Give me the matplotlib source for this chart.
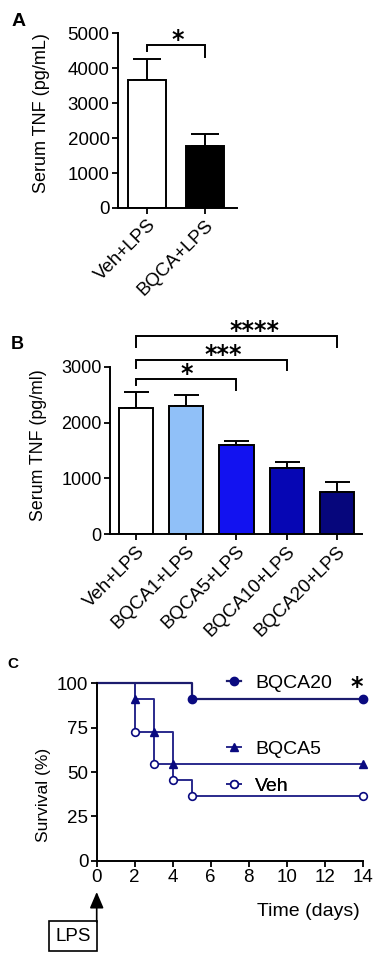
import matplotlib.pyplot as plt
import numpy as np

plt.rcParams['font.family'] = ['Liberation Sans', 'DejaVu Sans']
plt.rcParams['axes.linewidth'] = 1.4

# panel A
a_groups = ['Veh+LPS', 'BQCA+LPS']
a_means = [3670, 1780]
a_sem = [600, 335]
a_colors = ['white', 'black']

# panel B
b_groups = ['Veh+LPS', 'BQCA1+LPS', 'BQCA5+LPS', 'BQCA10+LPS', 'BQCA20+LPS']
b_means = [2270, 2300, 1590, 1185, 755]
b_sem = [280, 190, 72, 102, 185]
b_colors = ['white', '#90c0f8', '#1212f0', '#0606b4', '#06067c']

# panel C (Kaplan-Meier, n=11 per group)
days_bqca20 = [0, 5, 14]
surv_bqca20 = [100, 90.9, 90.9]
days_bqca5 = [0, 2, 3, 4, 14]
surv_bqca5 = [100, 90.9, 72.7, 54.5, 54.5]
days_veh = [0, 2, 3, 4, 5, 14]
surv_veh = [100, 72.7, 54.5, 45.5, 36.4, 36.4]

fig = plt.figure(figsize=(3.83, 9.55), dpi=100)

STAR_FONT = ['DejaVu Sans']


def style_axes(ax, size):
    ax.spines['top'].set_visible(False)
    ax.spines['right'].set_visible(False)
    ax.tick_params(direction='out', length=4, width=1.3, labelsize=size, pad=2)


def bracket(ax, x0, x1, y, y0, y1, stars, sx, size=17):
    ax.plot([x0, x0, x1, x1], [y0, y, y, y1], color='black', lw=1.4,
            clip_on=False, solid_joinstyle='miter')
    ax.annotate(stars, xy=(sx, y), xytext=(0, -1.5), textcoords='offset points',
                ha='center', va='baseline', fontsize=size, fontweight='bold',
                family=STAR_FONT, annotation_clip=False)


# ---------------- A ----------------
axA = fig.add_axes([0.308, 0.7822, 0.311, 0.1832])
xa = np.arange(len(a_groups))
axA.errorbar(xa, a_means, yerr=[np.zeros(len(xa)), a_sem], fmt='none',
             ecolor='black', elinewidth=1.4, capsize=10, capthick=1.4, zorder=1)
axA.bar(xa, a_means, width=0.655, color=a_colors, edgecolor='black',
        linewidth=1.4, zorder=2)
axA.set_xlim(-0.5, 1.552)
axA.set_ylim(0, 5000)
axA.set_yticks([0, 1000, 2000, 3000, 4000, 5000])
axA.set_xticks(xa)
axA.set_xticklabels(a_groups, rotation=45, ha='right', rotation_mode='anchor')
style_axes(axA, 13.5)
axA.set_ylabel('Serum TNF (pg/mL)', fontsize=13)
axA.yaxis.set_label_coords(-0.57, 0.54)
bracket(axA, 0, 1, 4657, 4494, 4323, '*', 0.53)
fig.text(0.031, 0.978, 'A', fontsize=14, fontweight='bold', va='center')

# ---------------- B ----------------
axB = fig.add_axes([0.2872, 0.4405, 0.658, 0.1755])
xb = np.arange(len(b_groups))
axB.errorbar(xb, b_means, yerr=[np.zeros(len(xb)), b_sem], fmt='none',
             ecolor='black', elinewidth=1.4, capsize=9, capthick=1.4, zorder=1)
axB.bar(xb, b_means, width=0.68, color=b_colors, edgecolor='black',
        linewidth=1.4, zorder=2)
axB.set_xlim(-0.518, 4.5)
axB.set_ylim(0, 3000)
axB.set_yticks([0, 1000, 2000, 3000])
axB.set_xticks(xb)
axB.set_xticklabels(b_groups, rotation=45, ha='right', rotation_mode='anchor')
style_axes(axB, 13)
axB.tick_params(axis='x', labelsize=13.5)
axB.set_ylabel('Serum TNF (pg/ml)', fontsize=12.8)
axB.yaxis.set_label_coords(-0.25, 0.533)
bracket(axB, 0, 2, 2774, 2672, 2583, '*', 1.0)
bracket(axB, 0, 3, 3123, 2971, 2941, '***', 1.73)
bracket(axB, 0, 4, 3545, 3358, 3358, '****', 2.35)
fig.text(0.028, 0.639, 'B', fontsize=13, fontweight='bold', va='center')

# ---------------- C ----------------
axC = fig.add_axes([0.2525, 0.0987, 0.6945, 0.1858])
line_col = '#2a2a8c'
mark_col = '#0a0a80'
lv, = axC.step(days_veh, surv_veh, where='post', color=line_col, lw=1.4,
               marker='o', ms=5.5, mfc='white', mec=mark_col, mew=1.2,
               markevery=slice(1, None))
l5, = axC.step(days_bqca5, surv_bqca5, where='post', color=line_col, lw=1.4,
               marker='^', ms=5.5, mfc=mark_col, mec=mark_col,
               markevery=slice(1, None))
l20, = axC.step(days_bqca20, surv_bqca20, where='post', color='#1c1c6e', lw=1.6,
                marker='o', ms=6, mfc=mark_col, mec=mark_col,
                markevery=slice(1, None))
for c in (lv, l5, l20):
    c.set_clip_on(False)
axC.set_xlim(0, 14)
axC.set_ylim(0, 100)
axC.set_xticks(range(0, 15, 2))
axC.set_yticks([0, 25, 50, 75, 100])
style_axes(axC, 13.5)
axC.set_ylabel('Survival (%)', fontsize=12.5)
axC.yaxis.set_label_coords(-0.172, 0.37)

for handle, lab, ypos in [(l20, 'BQCA20', 1.0), (l5, 'BQCA5', 0.63), (lv, 'Veh', 0.42)]:
    leg = axC.legend([handle], [lab], loc='center left', bbox_to_anchor=(0.49, ypos),
                     frameon=False, handlelength=0.7, handletextpad=0.75,
                     borderpad=0, borderaxespad=0, fontsize=14, numpoints=1)
    axC.add_artist(leg)

axC.text(13.7, 93.8, '*', ha='center', va='baseline', fontsize=17,
         fontweight='bold', family=STAR_FONT)
axC.text(0.794, -0.284, 'Time (days)', transform=axC.transAxes, ha='center',
         va='center', fontsize=14)
axC.text(-1.25, -0.4245, 'LPS', transform=axC.get_xaxis_transform(),
         ha='center', va='center', fontsize=13.5,
         bbox=dict(boxstyle='square,pad=0.35', fc='white', ec='black', lw=1.2))
axC.annotate('', xy=(0, -0.176), xycoords=('data', 'axes fraction'),
             xytext=(0, -0.345), textcoords=('data', 'axes fraction'),
             arrowprops=dict(arrowstyle='-|>,head_length=0.7,head_width=0.3',
                             color='black', lw=1.2, shrinkA=0, shrinkB=0,
                             mutation_scale=14))
fig.text(0.018, 0.305, 'C', fontsize=11, fontweight='bold', va='center')

fig.savefig('out.png', dpi=100)
